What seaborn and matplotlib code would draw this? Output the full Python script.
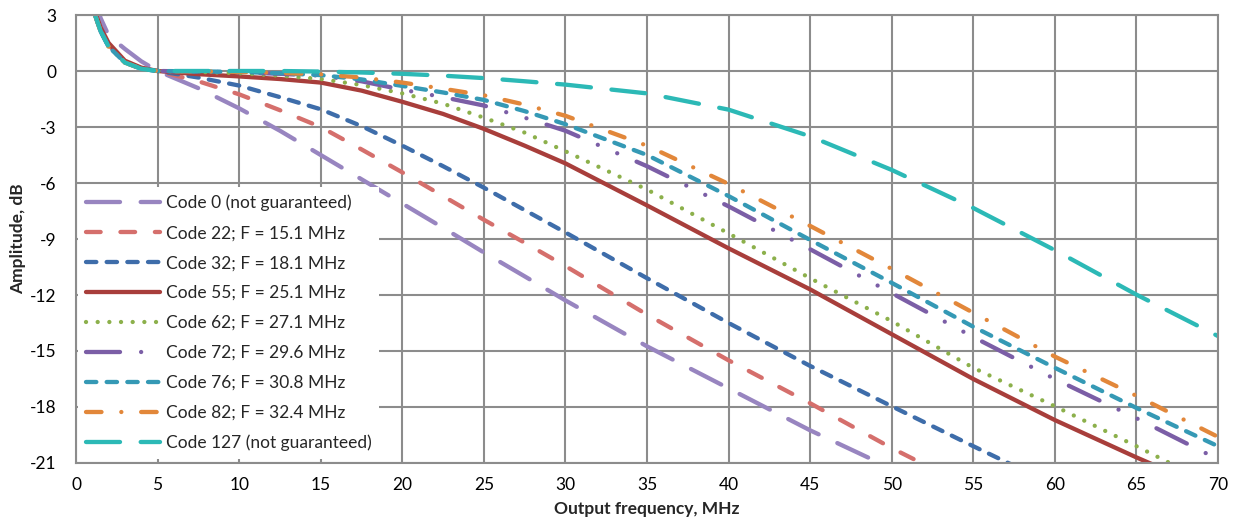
import numpy as np
import pandas as pd
import matplotlib
matplotlib.use("Agg")
import matplotlib.pyplot as plt
import seaborn as sns

# Output frequency grid, MHz
freq = [1.15, 1.5, 2, 3, 4, 5, 7.5, 10, 12.5, 15, 17.5, 20, 22.5, 25, 27.5,
        30, 35, 40, 45, 50, 55, 60, 65, 70]

# Amplitude response (dB) for each filter code
code_0   = [4.2, 2.85, 1.9, 1.18, 0.52, 0, -0.92, -2.0, -3.2, -4.5, -5.8, -7.1,
            -8.4, -9.72, -11.0, -12.29, -14.75, -17.0, -19.25, -21.3,
            np.nan, np.nan, np.nan, np.nan]
code_22  = [3.1, 2.25, 1.4, 0.5, 0.15, 0, -0.55, -1.25, -2.1, -3.0, -4.2, -5.43,
            -6.7, -7.97, -9.2, -10.45, -13.05, -15.5, -17.8, -20.2, -22.4,
            np.nan, np.nan, np.nan]
code_32  = [3.1, 2.2, 1.35, 0.47, 0.13, 0, -0.35, -0.78, -1.4, -2.05, -2.95, -4.0,
            -5.1, -6.25, -7.45, -8.65, -11.1, -13.5, -15.8, -17.96, -20.1, -22.2,
            np.nan, np.nan]
code_55  = [3.2, 2.35, 1.5, 0.55, 0.18, 0, -0.17, -0.29, -0.43, -0.62, -1.05, -1.65,
            -2.3, -3.1, -4.0, -4.95, -7.2, -9.5, -11.7, -14.1, -16.5, -18.7,
            -20.7, -22.6]
code_62  = [3.05, 2.15, 1.3, 0.45, 0.12, 0, -0.05, -0.12, -0.25, -0.43, -0.75, -1.2,
            -1.75, -2.5, -3.3, -4.3, -6.35, -8.7, -11.1, -13.4, -15.9, -17.96,
            -20.1, -22.3]
code_72  = [3.05, 2.15, 1.3, 0.45, 0.12, 0, -0.03, -0.07, -0.15, -0.25, -0.55, -1.0,
            -1.4, -1.85, -2.5, -3.2, -5.1, -7.25, -9.55, -11.9, -14.25, -16.5,
            -18.6, -20.8]
code_76  = [3.05, 2.15, 1.3, 0.45, 0.12, 0, -0.02, -0.05, -0.12, -0.22, -0.45, -0.8,
            -1.15, -1.55, -2.15, -2.85, -4.5, -6.7, -9.05, -11.35, -13.7, -15.9,
            -18.05, -20.1]
code_82  = [3.05, 2.15, 1.3, 0.45, 0.12, 0, -0.02, -0.05, -0.1, -0.18, -0.35, -0.62,
            -0.95, -1.3, -1.8, -2.4, -4.0, -6.05, -8.3, -10.6, -12.95, -15.3,
            -17.4, -19.6]
code_127 = [3.05, 2.15, 1.3, 0.45, 0.12, 0, 0.0, 0.0, 0.0, -0.03, -0.08, -0.15,
            -0.25, -0.38, -0.55, -0.73, -1.2, -2.07, -3.5, -5.3, -7.34, -9.6,
            -11.98, -14.2]

labels = ["Code 0 (not guaranteed)", "Code 22; F = 15.1 MHz", "Code 32; F = 18.1 MHz",
          "Code 55; F = 25.1 MHz", "Code 62; F = 27.1 MHz", "Code 72; F = 29.6 MHz",
          "Code 76; F = 30.8 MHz", "Code 82; F = 32.4 MHz", "Code 127 (not guaranteed)"]
series = [code_0, code_22, code_32, code_55, code_62, code_72, code_76, code_82, code_127]

x_ticks = list(range(0, 71, 5))
y_ticks = list(range(-21, 4, 3))

colors = ["#9885C0", "#D56F6C", "#3E6DAA", "#A83E3B", "#8CB04B",
          "#7B5EA6", "#3599B5", "#E2873A", "#2CB9B6"]
dot = 0.01
dash_styles = [
    (7.9, 4.8),                       # long dash
    (3.4, 4.6),                       # dash
    (2.4, 2.4),                       # short dash
    "",                               # solid
    (dot, 2.7),                       # round dot
    (7.9, 4.9, dot, 4.9, dot, 4.9),   # long dash dot dot
    (2.4, 2.4),                       # short dash
    (3.6, 4.6, dot, 4.6),             # dash dot
    (7.9, 4.8),                       # long dash
]

rows = []
for lab, vals in zip(labels, series):
    for f, v in zip(freq, vals):
        rows.append((lab, f, v))
df = pd.DataFrame(rows, columns=["code", "freq", "amp"]).dropna()

sns.set_style("white")
plt.rcParams["font.family"] = ["Lato", "DejaVu Sans"]

fig = plt.figure(figsize=(12.41, 5.22), dpi=100)
ax = fig.add_axes([76 / 1241, 1 - 463 / 522, (1218 - 76) / 1241, (463 - 15) / 522])

sns.lineplot(data=df, x="freq", y="amp", hue="code", style="code",
             hue_order=labels, style_order=labels,
             palette=dict(zip(labels, colors)),
             dashes=dict(zip(labels, dash_styles)),
             lw=3.1, sort=False, legend=False, ax=ax)

handles = ax.get_lines()[:len(labels)]
for ln in handles:
    ln.set_dash_capstyle("round")
    ln.set_solid_capstyle("round")
    ln.set_dash_joinstyle("round")
    ln.set_solid_joinstyle("round")

grid_c = "#8C8C8C"
ax.set_xlim(0, 70)
ax.set_ylim(-21, 3)
ax.set_xticks(x_ticks)
ax.set_yticks(y_ticks)
ax.set_xticklabels([str(t) for t in x_ticks])
ax.set_yticklabels([str(t) for t in y_ticks])
ax.grid(True, color=grid_c, lw=1.5)
ax.set_axisbelow(True)
for s in ax.spines.values():
    s.set_color(grid_c)
    s.set_linewidth(1.5)
ax.tick_params(axis="both", which="major", direction="out", length=4,
               width=1.5, color=grid_c, labelsize=12.5, labelcolor="black")
ax.tick_params(axis="y", pad=10)
ax.tick_params(axis="x", pad=6)

ax.set_xlabel("Output frequency, MHz", fontsize=12.5, fontweight="bold", labelpad=6)
ax.set_ylabel("Amplitude, dB", fontsize=12.5, fontweight="bold", labelpad=3)

leg = ax.legend(handles, labels, loc="upper left",
                bbox_to_anchor=(2 / 1142, 1 - (187 - 15) / 448),
                borderaxespad=0, frameon=True, fancybox=False, framealpha=1,
                edgecolor="white", facecolor="white", fontsize=12.5,
                handlelength=4.3, handletextpad=0.3, labelspacing=0.8,
                borderpad=0.45)
leg.get_frame().set_linewidth(0)
for ln in leg.get_lines():
    ln.set_dash_capstyle("round")
    ln.set_solid_capstyle("round")

fig.savefig("out.png", dpi=100)
